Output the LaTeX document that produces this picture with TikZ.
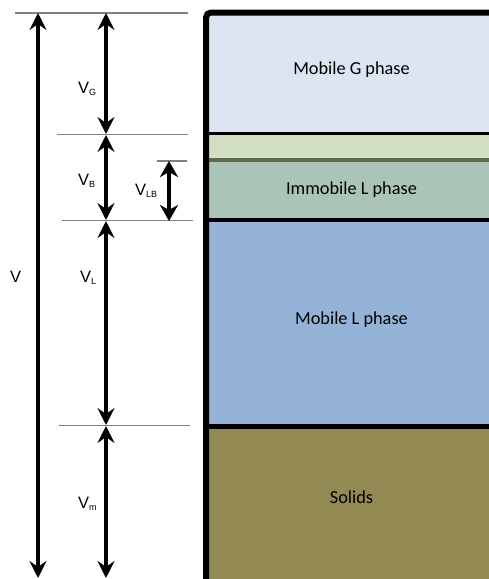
\documentclass[tikz,border=0pt]{standalone}
\usepackage{fontspec}
\setmainfont{Carlito}
\newfontfamily\labelfont{Liberation Sans}
\usetikzlibrary{arrows.meta}
\definecolor{gfill}{HTML}{DCE6F2}
\definecolor{bfill}{HTML}{D3DFC3}
\definecolor{olive}{HTML}{5F6A4C}
\definecolor{ifill}{HTML}{AAC4B7}
\definecolor{lfill}{HTML}{95B3D7}
\definecolor{sfill}{HTML}{938953}
\definecolor{tick}{HTML}{808080}
\tikzset{
  layertext/.style={font=\fontsize{18.3}{21}\selectfont, text=black, inner sep=0pt},
  dimlabel/.style={font=\labelfont\fontsize{16.5}{18}\selectfont, anchor=base west, inner sep=0pt},
  tickline/.style={draw=tick, line width=1.2pt},
  dimarrow/.style={line width=3.2pt, {Stealth[length=17pt,width=17pt,inset=6pt]}-{Stealth[length=17pt,width=17pt,inset=6pt]}},
  bigarrow/.style={line width=4.5pt, {Stealth[length=16pt,width=18pt,inset=5pt]}-{Stealth[length=16pt,width=18pt,inset=5pt]}}
}
\newcommand{\sbs}[1]{\raisebox{-2pt}{\fontsize{9}{9}\selectfont #1}}
\begin{document}
\begin{tikzpicture}[x=1pt,y=-1pt]
\useasboundingbox (0,0) rectangle (488,579);
% layers
\fill[gfill] (209,15) rectangle (492,133);
\fill[bfill] (209,133) rectangle (492,160);
\fill[ifill] (209,160) rectangle (492,220);
\fill[lfill] (209,220) rectangle (492,427);
\fill[sfill] (209,427) rectangle (492,585);
% separators
\draw[black, line width=3pt] (209,133.5) -- (492,133.5);
\draw[olive, line width=4pt] (209,160) -- (492,160);
\draw[black, line width=4pt] (209,220) -- (492,220);
\draw[black, line width=4.5pt] (209,426.5) -- (492,426.5);
% container wall
\draw[black, line width=6pt, rounded corners=5pt] (206,590) -- (206,12.5) -- (495,12.5);
% layer texts
\node[layertext] (tg) at (351.5,70) {Mobile G phase};
\node[layertext] (ti) at (351.5,190) {Immobile L phase};
\node[layertext] (tl) at (351.5,320) {Mobile L phase};
\node[layertext] (ts) at (351.5,497) {Solids};
% tick lines
\coordinate (t0a) at (15,13);   \coordinate (t0b) at (188,13);
\coordinate (t1a) at (57,134.5);\coordinate (t1b) at (188,134.5);
\coordinate (t2a) at (157,161); \coordinate (t2b) at (187,161);
\coordinate (t3a) at (62,220.5);\coordinate (t3b) at (193,220.5);
\coordinate (t4a) at (59,425.5);\coordinate (t4b) at (190,425.5);
\foreach \i in {0,...,4} {\draw[tickline] (t\i a) -- (t\i b);}
% arrow ends
\coordinate (vtop) at (38,13);  \coordinate (vbot) at (38,578);
\coordinate (c0) at (106,13);
\coordinate (c1a) at (106,134); \coordinate (c1b) at (106,135);
\coordinate (c2a) at (106,220); \coordinate (c2b) at (106,221);
\coordinate (c3a) at (106,425); \coordinate (c3b) at (106,426);
\coordinate (c4) at (106,578);
\coordinate (lbtop) at (169,161); \coordinate (lbbot) at (169,221);
\draw[dimarrow, line width=3.6pt] (vtop) -- (vbot);
\draw[dimarrow] (c0) -- (c1a);
\draw[dimarrow] (c1b) -- (c2a);
\draw[dimarrow] (c2b) -- (c3a);
\draw[dimarrow] (c3b) -- (c4);
\draw[bigarrow] (lbtop) -- (lbbot);
% labels
\node[dimlabel] (lv) at (10,282) {V};
\node[dimlabel] (lg) at (78,93) {V\sbs{G}};
\node[dimlabel] (lb) at (78,185) {V\sbs{B}};
\node[dimlabel] (llb) at (135,195) {V\sbs{LB}};
\node[dimlabel] (ll) at (80,282) {V\sbs{L}};
\node[dimlabel] (lm) at (78,508) {V\sbs{m}};
\end{tikzpicture}
\end{document}
